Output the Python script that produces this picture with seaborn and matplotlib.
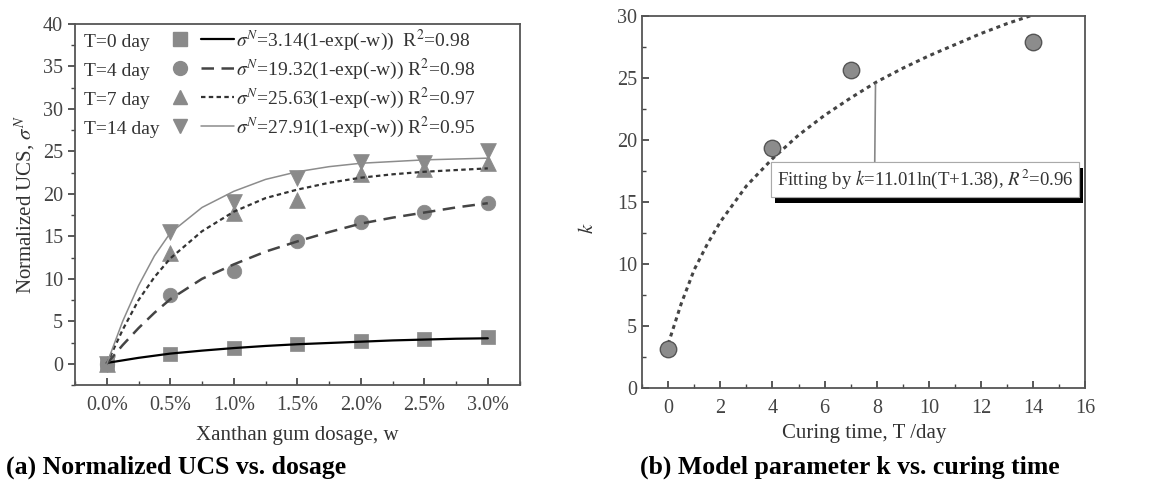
import numpy as np
import pandas as pd
import matplotlib
matplotlib.use("Agg")
import matplotlib.pyplot as plt
import matplotlib.patheffects as pe
from matplotlib.lines import Line2D
from matplotlib.legend_handler import HandlerTuple
from matplotlib.ticker import MultipleLocator, FuncFormatter
import seaborn as sns

# (a) measured normalized UCS vs xanthan gum dosage (%)
dosage = [0.0, 0.5, 1.0, 1.5, 2.0, 2.5, 3.0]
ucs_t0 = [0.0, 1.2, 1.85, 2.3, 2.65, 2.9, 3.1]
ucs_t4 = [0.0, 8.1, 10.9, 14.4, 16.7, 17.9, 18.9]
ucs_t7 = [0.0, 13.0, 17.7, 19.3, 22.3, 22.9, 23.6]
ucs_t14 = [0.0, 15.5, 19.0, 21.9, 23.7, 23.6, 25.0]

# fitted curves
fit_w = [0.0, 0.125, 0.25, 0.375, 0.5, 0.75, 1.0, 1.25, 1.5, 1.75, 2.0, 2.25, 2.5, 2.75, 3.0]
fit_t0 = [0.1, 0.4, 0.7, 0.95, 1.2, 1.55, 1.85, 2.1, 2.3, 2.45, 2.6, 2.75, 2.85, 2.95, 3.0]
fit_t4 = [0.0, 2.2, 4.2, 6.0, 7.6, 10.0, 11.7, 13.2, 14.4, 15.5, 16.5, 17.2, 17.8, 18.4, 18.9]
fit_t7 = [0.0, 4.0, 7.5, 10.2, 12.4, 15.6, 17.9, 19.5, 20.5, 21.3, 21.9, 22.3, 22.6, 22.8, 23.0]
fit_t14 = [0.0, 5.0, 9.2, 12.7, 15.4, 18.4, 20.3, 21.7, 22.6, 23.2, 23.6, 23.8, 24.0, 24.1, 24.2]

curing_labels = ["T=0 day", "T=4 day", "T=7 day", "T=14 day"]
equations = [r"$\sigma^N$=3.14(1-exp(-w))  R$^2$=0.98",
             r"$\sigma^N$=19.32(1-exp(-w)) R$^2$=0.98",
             r"$\sigma^N$=25.63(1-exp(-w)) R$^2$=0.97",
             r"$\sigma^N$=27.91(1-exp(-w)) R$^2$=0.95"]

# (b) model parameter k vs curing time
curing_time = [0, 4, 7, 14]
k_values = [3.14, 19.32, 25.63, 27.91]
fit_T = [0, 0.5, 1, 1.5, 2, 3, 4, 5, 6, 7, 8, 9, 10, 11, 12, 13, 14]
fit_k = [3.55, 6.8, 9.55, 11.6, 13.4, 16.3, 18.5, 20.4, 22.0, 23.4, 24.7, 25.8, 26.8, 27.7,
         28.6, 29.4, 30.1]

sns.set_theme(style="ticks")
plt.rcParams["font.family"] = ["Liberation Serif", "DejaVu Serif"]
plt.rcParams["mathtext.fontset"] = "stix"
txt = "#333333"
plt.rcParams.update({"text.color": txt, "axes.labelcolor": txt,
                     "xtick.color": "#444444", "ytick.color": "#444444",
                     "axes.edgecolor": "#555555"})

fig = plt.figure(figsize=(11.76, 4.88), dpi=100)
ax1 = fig.add_axes([0.0638, 0.211, 0.378, 0.740])
ax2 = fig.add_axes([0.546, 0.205, 0.377, 0.762])

mk_color = "#8a8a8a"
markers = ["s", "o", "^", "v"]
msizes = [90, 110, 130, 130]
styles = [dict(color="black", lw=1.6, ls="-"),
          dict(color="#444444", lw=1.8, ls=(0, (5, 3))),
          dict(color="#333333", lw=1.6, ls=(0, (2, 1.5))),
          dict(color="#8c8c8c", lw=1.1, ls="-")]

ucs_sets = [ucs_t0, ucs_t4, ucs_t7, ucs_t14]
fit_sets = [fit_t0, fit_t4, fit_t7, fit_t14]

for ucs, fit, m, s, st in zip(ucs_sets, fit_sets, markers, msizes, styles):
    sns.scatterplot(x=dosage, y=ucs, ax=ax1, marker=m, s=s, color=mk_color,
                    edgecolor=mk_color, linewidth=0.5, zorder=2)
    sns.lineplot(x=fit_w, y=fit, ax=ax1, color=st["color"], lw=st["lw"],
                 linestyle=st["ls"], zorder=3)

ax1.set_xlim(-0.25, 3.25)
ax1.set_ylim(-2.5, 40)
ax1.xaxis.set_major_locator(MultipleLocator(0.5))
ax1.xaxis.set_minor_locator(MultipleLocator(0.25))
ax1.xaxis.set_major_formatter(FuncFormatter(lambda v, p: f"{v:.1f}%"))
ax1.yaxis.set_major_locator(MultipleLocator(5))
ax1.yaxis.set_minor_locator(MultipleLocator(2.5))
ax1.tick_params(axis="x", which="both", direction="in", labelsize=14.5, pad=8)
ax1.tick_params(axis="y", which="both", direction="out", labelsize=14.5)
ax1.tick_params(which="major", length=5)
ax1.tick_params(which="minor", length=3)
ax1.set_xlabel("Xanthan gum dosage, w", fontsize=15, labelpad=8)
ax1.set_ylabel(r"Normalized UCS, $\sigma^N$", fontsize=15, labelpad=4)

# legend: T labels, then marker + line, then equation
blank = [Line2D([], [], linestyle="none") for _ in curing_labels]
leg_a = ax1.legend(blank, curing_labels, loc="upper left", bbox_to_anchor=(0.02, 0.975),
                   frameon=False, fontsize=14, handlelength=0, handletextpad=0,
                   labelspacing=0.6, borderpad=0, borderaxespad=0)
ax1.add_artist(leg_a)
pairs = []
for m, st in zip(markers, styles):
    mk = Line2D([], [], marker=m, linestyle="none", color=mk_color, markersize=10)
    ln = Line2D([], [], color=st["color"], lw=st["lw"], linestyle=st["ls"])
    pairs.append((mk, ln))
ax1.legend(pairs, equations, loc="upper left", bbox_to_anchor=(0.2, 0.99),
           frameon=False, fontsize=14, handlelength=3.6, handletextpad=0.1,
           labelspacing=0.2, borderpad=0, borderaxespad=0,
           handler_map={tuple: HandlerTuple(ndivide=2, pad=0.2)})

# (b)
sns.lineplot(x=fit_T, y=fit_k, ax=ax2, color="#444444", lw=2.2,
             linestyle=(0, (1.3, 1.3)), zorder=2)
sns.scatterplot(x=curing_time, y=k_values, ax=ax2, s=140, color="#8c8c8c",
                edgecolor="#555555", linewidth=1.0, zorder=3)
ax2.set_xlim(-1, 16)
ax2.set_ylim(0, 30)
ax2.xaxis.set_major_locator(MultipleLocator(2))
ax2.xaxis.set_minor_locator(MultipleLocator(1))
ax2.yaxis.set_major_locator(MultipleLocator(5))
ax2.yaxis.set_minor_locator(MultipleLocator(2.5))
ax2.tick_params(which="both", direction="in", labelsize=14.5)
ax2.tick_params(axis="x", pad=8)
ax2.tick_params(which="major", length=5)
ax2.tick_params(which="minor", length=3)
ax2.set_xlabel("Curing time, T /day", fontsize=15, labelpad=4)
ax2.set_ylabel(r"$k$", fontsize=15)
ax2.yaxis.set_label_coords(-0.1, 0.43)

ann = ax2.annotate(r"Fitting by $k$=11.01ln(T+1.38), $R^2$=0.96",
                   xy=(7.95, 24.5), xytext=(9.85, 16.8), ha="center", va="center",
                   fontsize=13.5,
                   bbox=dict(boxstyle="square,pad=0.3", fc="white", ec="#aaaaaa", lw=0.8),
                   arrowprops=dict(arrowstyle="-", color="#888888", lw=1.2,
                                   relpos=(0.33, 1.0), shrinkA=0, shrinkB=0))
ann.get_bbox_patch().set_path_effects([
    pe.withSimplePatchShadow(offset=(3, -4), shadow_rgbFace="black", alpha=1.0),
    pe.Normal()])

for ax in (ax1, ax2):
    for sp in ax.spines.values():
        sp.set_visible(True)
        sp.set_linewidth(1.3)

fig.text(0.005, 0.043, "(a) Normalized UCS vs. dosage", fontsize=18.5,
         fontweight="bold", color="black", va="center")
fig.text(0.544, 0.043, "(b) Model parameter k vs. curing time", fontsize=18.5,
         fontweight="bold", color="black", va="center")

fig.savefig("out.png", dpi=100)
